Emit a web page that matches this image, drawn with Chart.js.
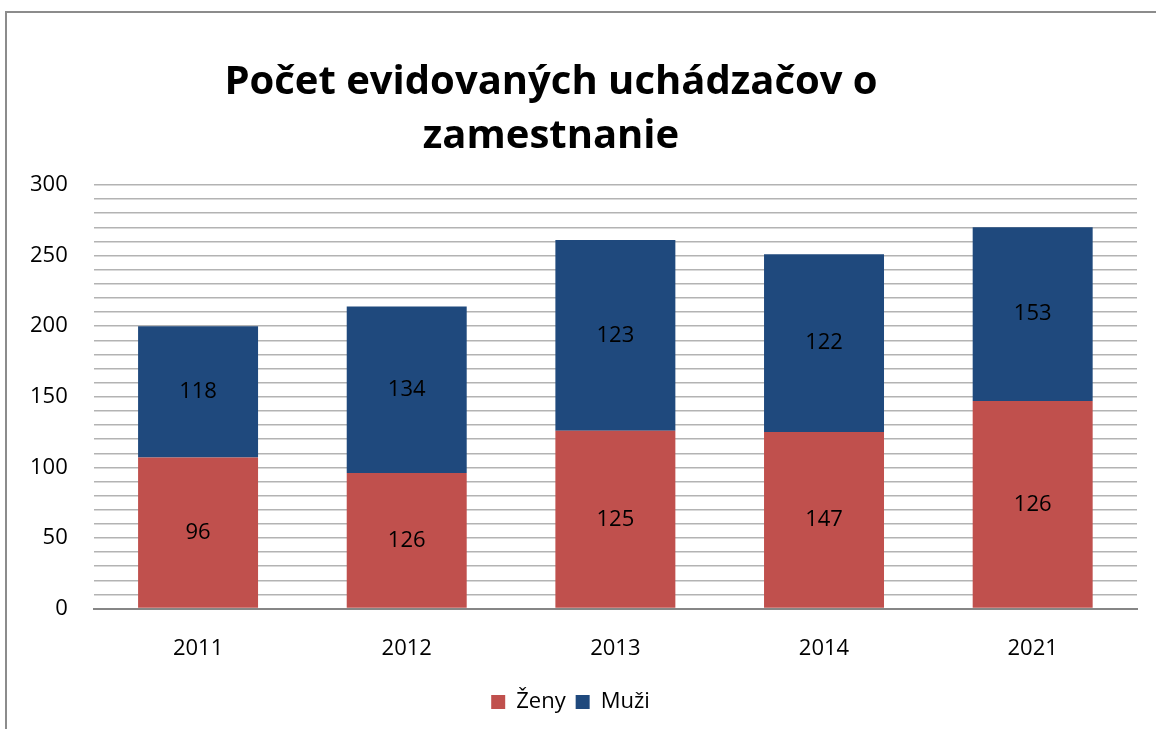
<!DOCTYPE html>
<html>
<head>
<meta charset="utf-8">
<script src="https://cdn.jsdelivr.net/npm/chart.js@4"></script>
<style>
  body { margin: 0; background: #fff; }
  #wrap { position: relative; width: 1156px; height: 729px; }
  #frame { position: absolute; left: 5px; top: 11px; right: 0; bottom: 0;
           border-top: 2px solid #8c8c8c; border-left: 2px solid #8c8c8c; }
</style>
</head>
<body>
<div id="wrap">
  <div id="frame"></div>
  <canvas id="chart"></canvas>
</div>
<script>
// categories and series
var years = ["2011", "2012", "2013", "2014", "2021"];
var zeny = [107, 96, 126, 125, 147];
var muzi = [93, 118, 135, 126, 123];
// data labels as printed on the original chart
var zenyLabels = [96, 126, 125, 147, 126];
var muziLabels = [118, 134, 123, 122, 153];

var titleLines = ["Počet evidovaných uchádzačov o", "zamestnanie"];

// title drawn a bit left of center like the original
var titlePlugin = {
  id: "titleText",
  afterDraw: function (chart) {
    var ctx = chart.ctx;
    ctx.save();
    ctx.fillStyle = "#000";
    ctx.font = "bold 40px 'Open Sans'";
    ctx.textAlign = "center";
    ctx.textBaseline = "middle";
    ctx.fillText(titleLines[0], 551, 83);
    ctx.fillText(titleLines[1], 551, 137);
    ctx.restore();
  }
};

// value labels in the middle of each bar segment
var labelPlugin = {
  id: "barLabels",
  afterDatasetsDraw: function (chart) {
    var ctx = chart.ctx;
    var texts = [zenyLabels, muziLabels];
    ctx.save();
    ctx.fillStyle = "#000";
    ctx.font = "22px 'Open Sans'";
    ctx.textAlign = "center";
    ctx.textBaseline = "middle";
    chart.data.datasets.forEach(function (ds, i) {
      var meta = chart.getDatasetMeta(i);
      meta.data.forEach(function (bar, j) {
        ctx.fillText(texts[i][j], bar.x, (bar.y + bar.base) / 2);
      });
    });
    ctx.restore();
  }
};

var ctx = document.getElementById("chart").getContext("2d");
var chart = new Chart(ctx, {
  type: "bar",
  data: {
    labels: years,
    datasets: [
      { label: "Ženy", data: zeny, backgroundColor: "#C0504D", categoryPercentage: 1, barPercentage: 0.575 },
      { label: "Muži", data: muzi, backgroundColor: "#1F497D", categoryPercentage: 1, barPercentage: 0.575 }
    ]
  },
  options: {
    responsive: true,
    maintainAspectRatio: false,
    animation: false,
    layout: { padding: { top: 185, right: 19, left: 4, bottom: 6 } },
    plugins: {
      title: { display: false },
      tooltip: { enabled: false },
      legend: {
        position: "bottom",
        labels: {
          color: "#000",
          font: { family: "'Open Sans'", size: 22 },
          boxWidth: 14,
          boxHeight: 14,
          padding: 10
        }
      }
    },
    scales: {
      x: {
        stacked: true,
        grid: { display: false },
        border: { display: true, color: "#868686", width: 2 },
        ticks: { color: "#000", font: { family: "'Open Sans'", size: 22 }, padding: 19 }
      },
      y: {
        stacked: true,
        min: 0,
        max: 300,
        grid: { color: "#b3b3b3", lineWidth: 1.5, drawTicks: false },
        border: { display: false },
        ticks: {
          stepSize: 10,
          autoSkip: false,
          color: "#000",
          padding: 26,
          font: { family: "'Open Sans'", size: 22 },
          callback: function (v) { return v % 50 === 0 ? v : ""; }
        }
      }
    }
  },
  plugins: [titlePlugin, labelPlugin]
});
</script>
</body>
</html>
